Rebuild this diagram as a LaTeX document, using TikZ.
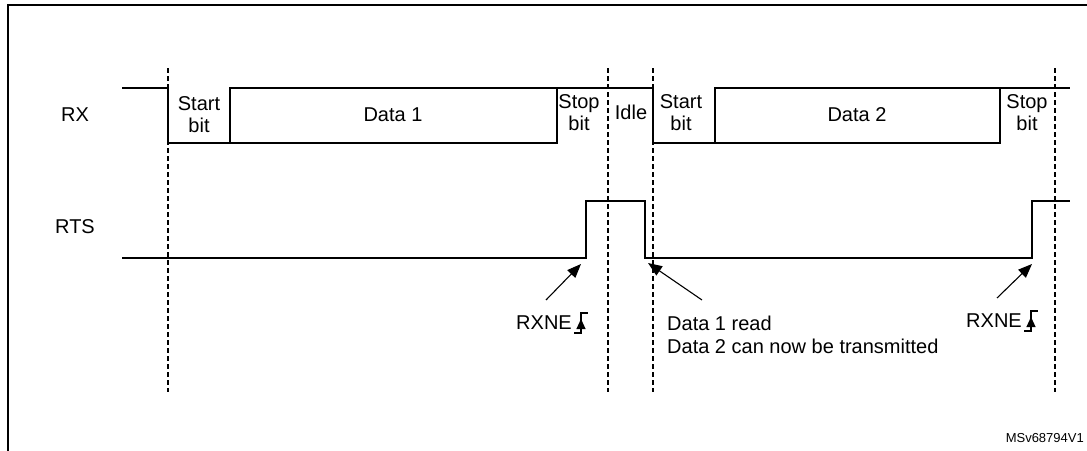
\documentclass[tikz,border=0pt]{standalone}
\usepackage{fontspec}
\setmainfont{Liberation Sans}
\usetikzlibrary{arrows.meta}
\begin{document}
\begin{tikzpicture}[x=1pt,y=-1pt,
  sig/.style={line width=1.5pt},
  dsh/.style={line width=1.1pt,dash pattern=on 5pt off 3pt},
  lbl/.style={font=\fontsize{20}{22}\selectfont,inner sep=0pt,align=center},
  ptr/.style={-{Triangle[length=14pt,width=11pt]},line width=1.1pt},
  edge/.style={line width=1.1pt}]
\useasboundingbox (0,0) rectangle (1087,450);
\draw[line width=1.6pt] (8,452) -- (8,5) -- (1090,5);
% dashed
\foreach \x/\n in {168/d1,608/d2,653/d3,1055/d4}{
  \coordinate (\n t) at (\x,68); \coordinate (\n b) at (\x,392);
  \draw[dsh] (\n t) -- (\n b);}
% RX
\draw[sig] (122,88) -- (168,88) -- (168,143) -- (557,143) -- (557,88) -- (230,88) -- (230,143);
\draw[sig] (557,88) -- (653,88) -- (653,143) -- (1000,143) -- (1000,88) -- (715,88) -- (715,143);
\draw[sig] (1000,88) -- (1070,88);
% RTS
\draw[sig] (122,258) -- (586,258) -- (586,201) -- (645,201) -- (645,258) -- (1032,258) -- (1032,201) -- (1070,201);
\node[lbl] (rx) at (75,115) {RX};
\node[lbl] (rts) at (75,227) {RTS};
\node[lbl] (s1) at (199,115) {Start\\bit};
\node[lbl] (d1) at (393,115) {Data 1};
\node[lbl] (p1) at (579,113) {Stop\\bit};
\node[lbl] (idle) at (631,112) {Idle};
\node[lbl] (s2) at (681,113) {Start\\bit};
\node[lbl] (d2) at (857,115) {Data 2};
\node[lbl] (p2) at (1027,113) {Stop\\bit};
% arrows
\coordinate (a1s) at (546,300); \coordinate (a1e) at (581,264);
\draw[ptr] (a1s) -- (a1e);
\coordinate (a2s) at (702,300); \coordinate (a2e) at (648,263);
\draw[ptr] (a2s) -- (a2e);
\coordinate (a3s) at (997,298); \coordinate (a3e) at (1032,264);
\draw[ptr] (a3s) -- (a3e);
\node[lbl,anchor=east] (r1) at (572,323) {RXNE};
\node[lbl,anchor=east] (r2) at (1022,321) {RXNE};
\node[lbl,anchor=west,align=left] (dr) at (667,335) {Data 1 read\\[1pt]Data 2 can now be transmitted};
% rising edge symbols
\foreach \x/\y/\n in {574/323/e1,1024/321/e2}{
  \coordinate (\n a) at (\x,\y+10); \coordinate (\n b) at (\x+7,\y+10);
  \coordinate (\n c) at (\x+7,\y-10); \coordinate (\n d) at (\x+14,\y-10);
  \draw[edge] (\n a) -- (\n b) -- (\n c) -- (\n d);
  \draw[-{Triangle[length=10pt,width=9pt]},edge] (\x+7,\y+4) -- (\x+7,\y-4);}
\node[font=\fontsize{13}{14}\selectfont,anchor=east,inner sep=0pt] (ms) at (1084,438) {MSv68794V1};
\end{tikzpicture}
\end{document}
